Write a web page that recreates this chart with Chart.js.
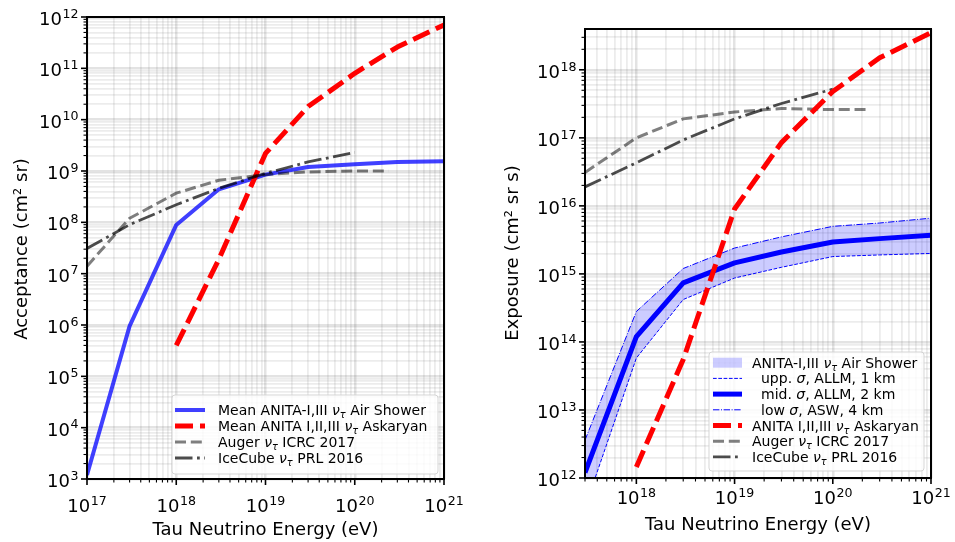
<!DOCTYPE html>
<html><head><meta charset="utf-8">
<script src="https://cdn.jsdelivr.net/npm/chart.js@4.4.0/dist/chart.umd.min.js"></script>
<style>
html,body{margin:0;padding:0;background:#fff;}
#wrap{position:relative;width:955px;height:542px;overflow:hidden;}
#wrap canvas{position:absolute;left:0;top:0;}
</style></head><body>
<div id="wrap"><canvas id="c1" width="955" height="542"></canvas><canvas id="c2" width="955" height="542"></canvas></div>
<script>
// ---------- data: left panel (acceptance, cm^2 sr) ----------
const energyAirL   = [1e17, 3e17, 1e18, 3e18, 1e19, 3e19, 1e20, 3e20, 1e21];
const acceptAir    = [1.2e3, 9.5e5, 8.9e7, 4.4e8, 8.5e8, 1.2e9, 1.35e9, 1.5e9, 1.55e9];
const energyAskL   = [1e18, 3e18, 1e19, 3e19, 1e20, 3e20, 1e21];
const acceptAsk    = [4e5, 1.9e7, 2.2e9, 1.8e10, 8e10, 2.6e11, 7e11];
const energyAugerL = [1e17, 3e17, 1e18, 3e18, 1e19, 3e19, 1e20, 2.4e20];
const acceptAuger  = [1.4e7, 1.2e8, 3.7e8, 6.6e8, 8.5e8, 9.6e8, 1e9, 1e9];
const energyIceL   = [1e17, 3e17, 1e18, 3e18, 1e19, 3e19, 1e20];
const acceptIce    = [3.1e7, 9e7, 2.2e8, 4.6e8, 9e8, 1.5e9, 2.3e9];

// ---------- data: right panel (exposure, cm^2 sr s) ----------
const energyAirR    = [3e17, 1e18, 3e18, 1e19, 3e19, 1e20, 3e20, 1e21];
const exposureMid   = [1.2e12, 1.2e14, 7.4e14, 1.45e15, 2.1e15, 2.95e15, 3.3e15, 3.7e15];
const exposureUpp   = [3.7e11, 5.8e13, 4.2e14, 8.7e14, 1.25e15, 1.8e15, 1.9e15, 2e15];
const exposureLow   = [3.6e12, 2.8e14, 1.2e15, 2.4e15, 3.5e15, 5e15, 5.6e15, 6.6e15];
const energyAskR    = [1e18, 3e18, 1e19, 3e19, 1e20, 3e20, 1e21];
const exposureAsk   = [1.45e12, 5.5e13, 9e15, 8.5e16, 4.8e17, 1.5e18, 3.5e18];
const energyAugerR  = [3e17, 1e18, 3e18, 1e19, 3e19, 1e20, 2.4e20];
const exposureAuger = [3.1e16, 1e17, 1.9e17, 2.4e17, 2.7e17, 2.6e17, 2.6e17];
const energyIceR    = [3e17, 1e18, 3e18, 1e19, 3e19, 1e20];
const exposureIce   = [1.9e16, 4.3e16, 9.3e16, 1.9e17, 3.2e17, 5.2e17];

// ---------- tick labels (powers of ten) ----------
const xTickExpL = [17, 18, 19, 20, 21];
const yTickExpL = [3, 4, 5, 6, 7, 8, 9, 10, 11, 12];
const xTickExpR = [18, 19, 20, 21];
const yTickExpR = [12, 13, 14, 15, 16, 17, 18];

const FONT = '"DejaVu Sans"';
const pts = (xs, ys) => xs.map((x, i) => ({x: x, y: ys[i]}));

function logTicks(min, max) {
  const out = [];
  const e0 = Math.floor(Math.log10(min)), e1 = Math.ceil(Math.log10(max));
  for (let e = e0; e <= e1; e++) {
    for (let m = 1; m <= 9; m++) {
      const v = m * Math.pow(10, e);
      if (v >= min * (1 - 1e-9) && v <= max * (1 + 1e-9)) out.push({value: v, major: m === 1});
    }
  }
  return out;
}

function drawRich(ctx, segs, x, y, size) {
  let cx = x;
  for (const s of segs) {
    const fs = s.sub ? size * 0.7 : size;
    ctx.font = (s.it ? 'italic ' : '') + fs + 'px ' + FONT;
    ctx.fillText(s.t, cx, y + (s.sub ? size * 0.22 : 0));
    cx += ctx.measureText(s.t).width;
  }
}

function drawPow(ctx, exp, x, y, mode) {
  ctx.font = '18px ' + FONT;
  const w1 = ctx.measureText('10').width;
  ctx.font = '12.6px ' + FONT;
  const w2 = ctx.measureText(String(exp)).width;
  const total = w1 + w2 + 0.5;
  const sx = mode === 'x' ? x - total / 2 : x - total;
  ctx.textAlign = 'left';
  ctx.textBaseline = 'alphabetic';
  ctx.font = '18px ' + FONT;
  ctx.fillText('10', sx, y);
  ctx.font = '12.6px ' + FONT;
  ctx.fillText(String(exp), sx + w1 + 0.5, y - 7.2);
}

function drawHandle(ctx, st, x0, x1, y) {
  ctx.save();
  if (st.type === 'patch') {
    ctx.fillStyle = st.color;
    ctx.fillRect(x0, y - 5, x1 - x0, 10);
  } else {
    ctx.strokeStyle = st.color;
    ctx.lineWidth = st.lw;
    ctx.lineCap = 'butt';
    ctx.setLineDash(st.dash || []);
    ctx.beginPath(); ctx.moveTo(x0, y); ctx.lineTo(x1, y); ctx.stroke();
  }
  ctx.restore();
}

const mplPlugin = {
  id: 'mpl',
  afterDraw(chart, args, o) {
    const ctx = chart.ctx, a = chart.chartArea;
    const xs = chart.scales.x, ys = chart.scales.y;
    ctx.save();
    ctx.fillStyle = '#000'; ctx.strokeStyle = '#000';
    // tick marks
    for (const t of xs.ticks) {
      const px = xs.getPixelForValue(t.value);
      ctx.lineWidth = t.major ? 1.6 : 1.1;
      ctx.beginPath(); ctx.moveTo(px, a.bottom); ctx.lineTo(px, a.bottom + (t.major ? 6 : 3.5)); ctx.stroke();
    }
    for (const t of ys.ticks) {
      const py = ys.getPixelForValue(t.value);
      ctx.lineWidth = t.major ? 1.6 : 1.1;
      ctx.beginPath(); ctx.moveTo(a.left, py); ctx.lineTo(a.left - (t.major ? 6 : 3.5), py); ctx.stroke();
    }
    // frame
    ctx.lineWidth = 2;
    ctx.strokeRect(a.left, a.top, a.right - a.left, a.bottom - a.top);
    // tick labels
    for (const e of o.xExp) drawPow(ctx, e, xs.getPixelForValue(Math.pow(10, e)), o.xLabelBaseline, 'x');
    for (const e of o.yExp) drawPow(ctx, e, a.left - 8.5, ys.getPixelForValue(Math.pow(10, e)) + 8, 'y');
    // axis titles
    ctx.font = '18px ' + FONT;
    ctx.textAlign = 'center'; ctx.textBaseline = 'alphabetic';
    ctx.fillText(o.xTitle.text, (a.left + a.right) / 2, o.xTitle.y);
    ctx.save();
    ctx.translate(o.yTitle.x, o.yTitle.y);
    ctx.rotate(-Math.PI / 2);
    ctx.fillText(o.yTitle.text, 0, 0);
    ctx.restore();
    // legend
    const L = o.legend;
    ctx.save();
    const [bx, by, bw, bh] = L.box;
    ctx.beginPath();
    if (ctx.roundRect) ctx.roundRect(bx, by, bw, bh, 3); else ctx.rect(bx, by, bw, bh);
    ctx.fillStyle = 'rgba(255,255,255,0.8)'; ctx.fill();
    ctx.strokeStyle = 'rgba(204,204,204,0.8)'; ctx.lineWidth = 1; ctx.stroke();
    ctx.restore();
    ctx.textAlign = 'left'; ctx.textBaseline = 'alphabetic'; ctx.fillStyle = '#000';
    L.rows.forEach((r, i) => {
      const cy = L.y0 + i * L.dy;
      drawHandle(ctx, r.style, L.hx0, L.hx1, cy);
      ctx.fillStyle = '#000';
      drawRich(ctx, r.segs, L.tx + (r.indent ? 9 : 0), cy + 5, L.size);
    });
    ctx.restore();
  }
};

const nuTau = [{t: 'ν', it: 1}, {t: 'τ', it: 1, sub: 1}];
const STY = {
  airL:  {type: 'line', color: 'rgba(0,0,255,0.75)', lw: 4},
  ask:   {type: 'line', color: '#ff0000', lw: 5, dash: [18, 7]},
  auger: {type: 'line', color: 'rgba(0,0,0,0.5)', lw: 3, dash: [11, 4.8]},
  ice:   {type: 'line', color: 'rgba(0,0,0,0.7)', lw: 2.8, dash: [17.5, 4.5, 2.8, 4.5]},
  band:  {type: 'patch', color: 'rgba(0,0,255,0.2)'},
  upp:   {type: 'line', color: '#0000ff', lw: 1, dash: [3.7, 1.6]},
  mid:   {type: 'line', color: '#0000ff', lw: 5},
  low:   {type: 'line', color: '#0000ff', lw: 1, dash: [6.4, 1.6, 1, 1.6]}
};

function ds(label, data, st, order, extra) {
  return Object.assign({
    label: label, data: data, borderColor: st.color, borderWidth: st.lw,
    borderDash: st.dash || [], borderCapStyle: 'butt', borderJoinStyle: 'round',
    pointRadius: 0, pointHoverRadius: 0, tension: 0, fill: false, clip: 0, order: order
  }, extra || {});
}

function gridOpts() {
  return {
    color: c => (c.tick && c.tick.major) ? 'rgba(0,0,0,0.11)' : 'rgba(0,0,0,0.075)',
    lineWidth: c => (c.tick && c.tick.major) ? 2.5 : 1.8,
    drawTicks: false
  };
}

function makeChart(id, xr, yr, padding, datasets, mpl) {
  return new Chart(document.getElementById(id), {
    type: 'line',
    data: {datasets: datasets},
    options: {
      responsive: false, animation: false, devicePixelRatio: 1,
      layout: {padding: padding},
      scales: {
        x: {type: 'logarithmic', min: xr[0], max: xr[1],
            afterBuildTicks: s => { s.ticks = logTicks(xr[0], xr[1]); },
            grid: gridOpts(), border: {display: false}, ticks: {display: false}},
        y: {type: 'logarithmic', min: yr[0], max: yr[1],
            afterBuildTicks: s => { s.ticks = logTicks(yr[0], yr[1]); },
            grid: gridOpts(), border: {display: false}, ticks: {display: false}}
      },
      plugins: {legend: {display: false}, tooltip: {enabled: false}, mpl: mpl}
    },
    plugins: [mplPlugin]
  });
}

// ---------- left panel ----------
makeChart('c1', [1e17, 1e21], [1e3, 1e12], {left: 87, right: 511, top: 17, bottom: 63}, [
  ds('Mean ANITA-I,III ντ Air Shower', pts(energyAirL, acceptAir), STY.airL, 4),
  ds('Mean ANITA I,II,III ντ Askaryan', pts(energyAskL, acceptAsk), STY.ask, 3),
  ds('Auger ντ ICRC 2017', pts(energyAugerL, acceptAuger), STY.auger, 2),
  ds('IceCube ντ PRL 2016', pts(energyIceL, acceptIce), STY.ice, 1)
], {
  xExp: xTickExpL, yExp: yTickExpL, xLabelBaseline: 512,
  xTitle: {text: 'Tau Neutrino Energy (eV)', y: 535},
  yTitle: {text: 'Acceptance (cm² sr)', x: 27, y: 249},
  legend: {
    box: [172, 395, 266, 79], hx0: 175, hx1: 205, tx: 218, y0: 410, dy: 16, size: 14,
    rows: [
      {segs: [{t: 'Mean ANITA-I,III '}, ...nuTau, {t: ' Air Shower'}], style: STY.airL},
      {segs: [{t: 'Mean ANITA I,II,III '}, ...nuTau, {t: ' Askaryan'}], style: STY.ask},
      {segs: [{t: 'Auger '}, ...nuTau, {t: ' ICRC 2017'}], style: STY.auger},
      {segs: [{t: 'IceCube '}, ...nuTau, {t: ' PRL 2016'}], style: STY.ice}
    ]
  }
});

// ---------- right panel ----------
makeChart('c2', [3e17, 1e21], [1e12, 3.98e18], {left: 585, right: 24, top: 29, bottom: 64}, [
  ds('upp. σ, ALLM, 1 km', pts(energyAirR, exposureUpp), STY.upp, 7, {fill: '+1', backgroundColor: 'rgba(0,0,255,0.2)'}),
  ds('low σ, ASW, 4 km', pts(energyAirR, exposureLow), STY.low, 6),
  ds('mid. σ, ALLM, 2 km', pts(energyAirR, exposureMid), STY.mid, 5),
  ds('ANITA I,II,III ντ Askaryan', pts(energyAskR, exposureAsk), STY.ask, 1),
  ds('Auger ντ ICRC 2017', pts(energyAugerR, exposureAuger), STY.auger, 3),
  ds('IceCube ντ PRL 2016', pts(energyIceR, exposureIce), STY.ice, 2)
], {
  xExp: xTickExpR, yExp: yTickExpR, xLabelBaseline: 504,
  xTitle: {text: 'Tau Neutrino Energy (eV)', y: 530},
  yTitle: {text: 'Exposure (cm² sr s)', x: 518, y: 253},
  legend: {
    box: [709, 352, 215, 119], hx0: 713, hx1: 742, tx: 752, y0: 362.7, dy: 15.7, size: 14,
    rows: [
      {segs: [{t: 'ANITA-I,III '}, ...nuTau, {t: ' Air Shower'}], style: STY.band},
      {segs: [{t: 'upp. '}, {t: 'σ', it: 1}, {t: ', ALLM, 1 km'}], style: STY.upp, indent: 1},
      {segs: [{t: 'mid. '}, {t: 'σ', it: 1}, {t: ', ALLM, 2 km'}], style: STY.mid, indent: 1},
      {segs: [{t: 'low '}, {t: 'σ', it: 1}, {t: ', ASW, 4 km'}], style: STY.low, indent: 1},
      {segs: [{t: 'ANITA I,II,III '}, ...nuTau, {t: ' Askaryan'}], style: STY.ask},
      {segs: [{t: 'Auger '}, ...nuTau, {t: ' ICRC 2017'}], style: STY.auger},
      {segs: [{t: 'IceCube '}, ...nuTau, {t: ' PRL 2016'}], style: STY.ice}
    ]
  }
});
</script>
</body></html>
